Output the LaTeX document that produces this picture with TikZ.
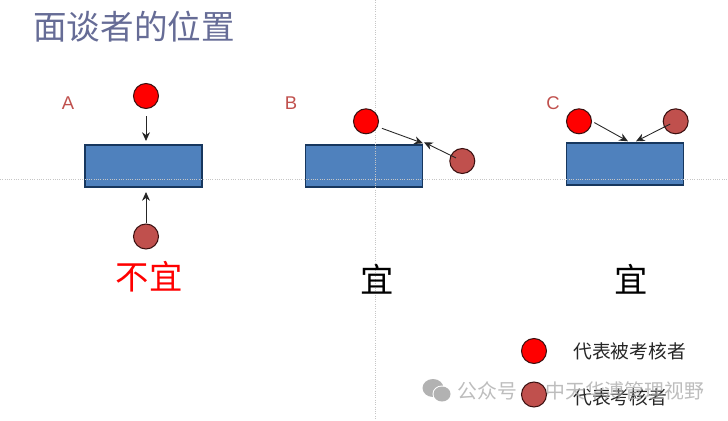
\documentclass[tikz,border=0pt]{standalone}
\usepackage{fontspec}
\usetikzlibrary{arrows.meta}
\setmainfont{Liberation Sans}
\newfontfamily\cjk{Noto Sans CJK SC}
\definecolor{slateTitle}{HTML}{666C96}
\definecolor{boxBlue}{HTML}{4F81BD}
\definecolor{boxEdge}{HTML}{17375E}
\definecolor{markBrown}{HTML}{C0504D}
\definecolor{markEdge}{HTML}{3A1010}
\begin{document}
\begin{tikzpicture}[x=0.02cm,y=-0.02cm]

    \tikzset{
      desk/.style={
        draw=boxEdge,
        fill=boxBlue,
        line width=0.6pt,
        minimum width=2.34cm,
        minimum height=0.84cm,
        inner sep=0pt,
      },
      person/.style={
        circle,
        draw=markEdge,
        line width=0.6pt,
        minimum size=0.5cm,
        inner sep=0pt,
      },
      reviewee/.style={person,fill=red},
      reviewer/.style={person,fill=markBrown},
      sightline/.style={
        draw=black!85,
        line width=0.5pt,
        -{Stealth[length=5pt,width=4.5pt]},
      },
      guide/.style={
        draw=gray!45,
        line width=0.3pt,
        densely dotted,
      },
      caselabel/.style={text=markBrown,font=\fontsize{10.5}{12}\selectfont},
      verdict/.style={font=\cjk\fontsize{19}{21}\selectfont},
      legendtext/.style={anchor=west,inner sep=0pt,font=\cjk\fontsize{10.7}{12}\selectfont,text=black!85},
      watermark/.style={anchor=west,inner sep=0pt,text=gray!65,opacity=0.8,font=\cjk\fontsize{11.3}{12}\selectfont},
    }
    \useasboundingbox (0,0) rectangle (728,420);

    \node[anchor=west,inner sep=0pt,text=slateTitle,font=\cjk\fontsize{19.1}{21}\selectfont] (title) at (33,27) {面谈者的位置};

    \node[desk] (deskA) at (143.5,166) {};
    \node[desk] (deskB) at (364,166) {};
    \node[desk] (deskC) at (625.3,164) {};

    \draw[guide] (0,179.5)--(728,179.5);
    \draw[guide] (375,0)--(375,420);

    \node[caselabel] (labelA) at (68,103) {A};
    \node[caselabel] (labelB) at (291,103) {B};
    \node[caselabel] (labelC) at (553,103) {C};

    \node[reviewee] (revieweeA) at (146,96) {};
    \node[reviewer] (reviewerA) at (146,236.5) {};
    \node[reviewee] (revieweeB) at (366,121.3) {};
    \node[reviewer] (reviewerB) at (462.3,161) {};
    \node[reviewee] (revieweeC) at (579,121.3) {};
    \node[reviewer] (reviewerC) at (675.7,121.3) {};

    \coordinate (tipAtop) at (146,141);
    \coordinate (tipAbot) at (146,192);
    \coordinate (tipBleft) at (423,143.3);
    \coordinate (tipBright) at (424,142.3);
    \coordinate (tipCleft) at (628,141.3);
    \coordinate (tipCright) at (636,141.3);

    \draw[sightline,shorten <=4pt] (revieweeA.south)--(tipAtop);
    \draw[sightline] (reviewerA.north)--(tipAbot);
    \draw[sightline,shorten <=2.5pt] (revieweeB.-25)--(tipBleft);
    \draw[sightline,shorten <=4pt] (reviewerB.center)--(tipBright);
    \draw[sightline,shorten <=1.5pt] (revieweeC.east)--(tipCleft);
    \draw[sightline,shorten <=3.5pt] (reviewerC.center)--(tipCright);

    \node[verdict,text=red] (verdictA) at (149,277) {不宜};
    \node[verdict,text=black] (verdictB) at (377,279) {宜};
    \node[verdict,text=black] (verdictC) at (631,279) {宜};

    \node[reviewee] (keyReviewee) at (534,351) {};
    \node[reviewer] (keyReviewer) at (534,394.5) {};
    \node[legendtext] (keyTextA) at (573,351) {代表被考核者};
    \node[legendtext] (keyTextB) at (573,397) {代表考核者};

    % watermark on top
    \fill[gray!60] (433,388) ellipse (10.5 and 9);
    \fill[white] (442,394) ellipse (9.5 and 8.5);
    \fill[gray!60] (442,394) ellipse (8.5 and 7.5);
    \node[watermark] (wmA) at (457,391) {公众号};
    \node[watermark] (wmB) at (545,391) {中天华溥管理视野};

\end{tikzpicture}
\end{document}
